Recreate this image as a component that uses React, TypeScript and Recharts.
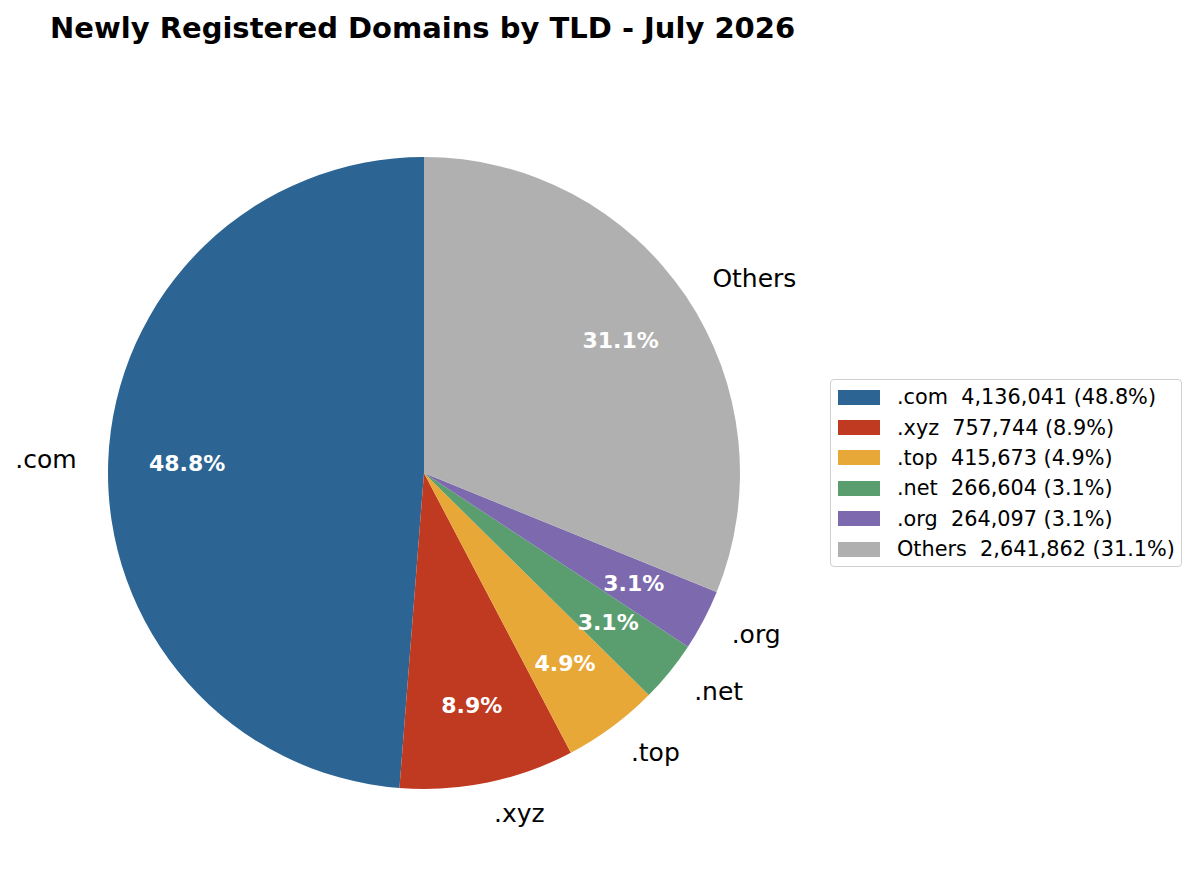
import { PieChart, Pie, Cell, Legend } from 'recharts'

const tlds   = ['.com', '.xyz', '.top', '.net', '.org', 'Others']
const counts = [4136041, 757744, 415673, 266604, 264097, 2641862]
const colors = ['#2c6494', '#c03a22', '#e8a838', '#5a9e6f', '#7d6aae', '#b0b0b0']

const FONT = '"DejaVu Sans", sans-serif'
const RAD  = Math.PI / 180
const total = counts.reduce((a, b) => a + b, 0)
const pct  = (v: number) => ((v / total) * 100).toFixed(1) + '%'

const data = tlds.map((name, i) => ({ name, value: counts[i], color: colors[i] }))

function renderLabel({ cx, cy, midAngle, outerRadius, index }: any) {
  const cos = Math.cos(-midAngle * RAD)
  const sin = Math.sin(-midAngle * RAD)
  const ox = cx + outerRadius * 1.1 * cos
  const oy = cy + outerRadius * 1.1 * sin
  const ix = cx + outerRadius * 0.75 * cos
  const iy = cy + outerRadius * 0.75 * sin
  return (
    <g>
      <text x={ox} y={oy} textAnchor={cos >= 0 ? 'start' : 'end'} dominantBaseline="central"
        style={{ fontSize: 25, fontFamily: FONT }} fill="#000">
        {tlds[index]}
      </text>
      <text x={ix} y={iy} textAnchor="middle" dominantBaseline="central"
        style={{ fontSize: 22, fontWeight: 'bold', fontFamily: FONT }} fill="#fff">
        {pct(counts[index])}
      </text>
    </g>
  )
}

function LegendBox() {
  return (
    <div style={{ border: '1.5px solid #d0d0d0', borderRadius: 4, background: '#fff', padding: '2px 6px 2px 7px', width: 352, boxSizing: 'border-box' as const }}>
      {data.map(d => (
        <div key={d.name} style={{ display: 'flex', alignItems: 'center', height: 30.4, fontFamily: FONT, fontSize: 20.8, color: '#000', whiteSpace: 'pre' }}>
          <span style={{ width: 42, height: 15, flexShrink: 0, background: d.color, display: 'inline-block', marginRight: 17 }} />
          {d.name + '  ' + d.value.toLocaleString('en-US') + ' (' + pct(d.value) + ')'}
        </div>
      ))}
    </div>
  )
}

export default function App() {
  return (
    <div style={{ position: 'absolute', left: 0, top: 0, width: 1198, height: 884, background: '#fff' }}>
      <div style={{ position: 'absolute', left: 50, top: 10, fontFamily: FONT, fontWeight: 'bold', fontSize: 29, lineHeight: '36px', color: '#000', whiteSpace: 'nowrap' }}>
        Newly Registered Domains by TLD - July 2026
      </div>
      <PieChart width={1198} height={884} margin={{ top: 0, right: 0, bottom: 0, left: 0 }}>
        <Pie data={data} dataKey="value" nameKey="name" cx={424} cy={473} outerRadius={316}
          startAngle={90} endAngle={450} stroke="none" label={renderLabel} labelLine={false}
          isAnimationActive={false}>
          {data.map(d => <Cell key={d.name} fill={d.color} />)}
        </Pie>
        <Legend content={<LegendBox />} layout="vertical" align="right" verticalAlign="middle"
          wrapperStyle={{ position: 'absolute', left: 830, top: 379, width: 352, right: 'auto', bottom: 'auto' }} />
      </PieChart>
    </div>
  )
}
